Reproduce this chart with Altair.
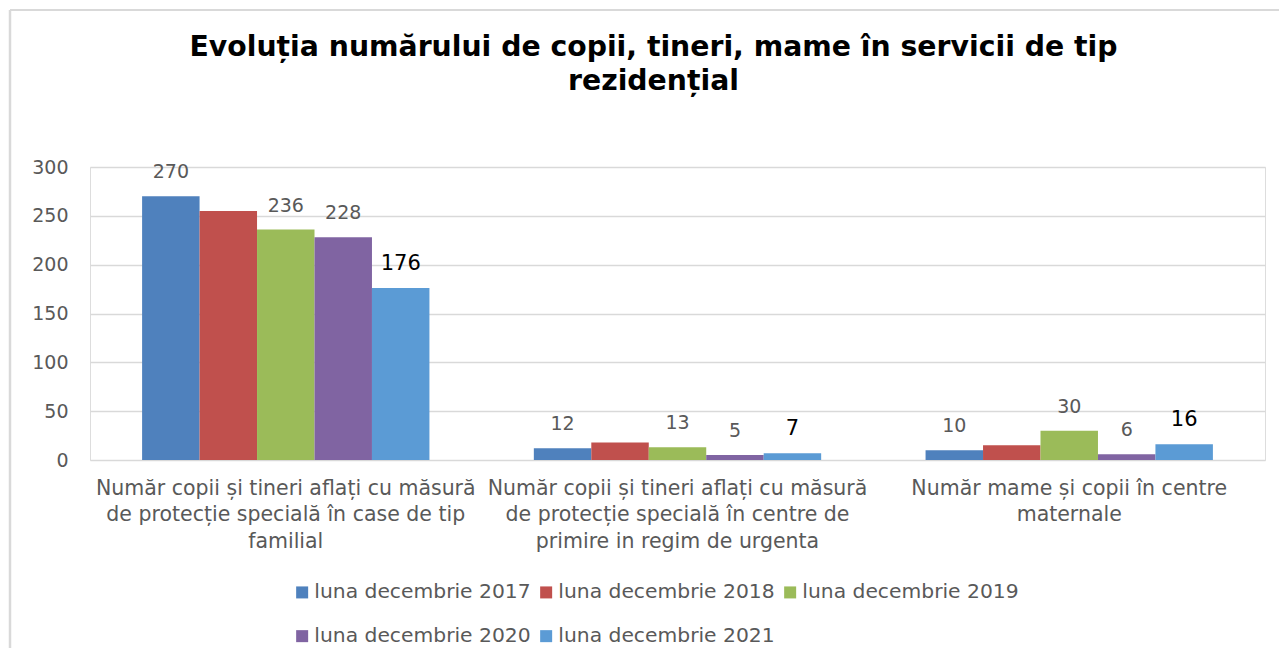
import altair as alt
import pandas as pd

categories = [
    "Număr copii și tineri aflați cu măsură\nde protecție specială în case de tip\nfamilial",
    "Număr copii și tineri aflați cu măsură\nde protecție specială în centre de\nprimire in regim de urgenta",
    "Număr mame și copii în centre\nmaternale",
]
series = [
    "luna decembrie 2017",
    "luna decembrie 2018",
    "luna decembrie 2019",
    "luna decembrie 2020",
    "luna decembrie 2021",
]
values_2017 = [270, 12, 10]
values_2018 = [255, 18, 15]
values_2019 = [236, 13, 30]
values_2020 = [228, 5, 6]
values_2021 = [176, 7, 16]
all_values = [values_2017, values_2018, values_2019, values_2020, values_2021]
labelled_series = ["luna decembrie 2017", "luna decembrie 2019", "luna decembrie 2020", "luna decembrie 2021"]
colors = ["#4F81BD", "#C0504D", "#9BBB59", "#8064A2", "#5B9BD5"]
y_ticks = [0, 50, 100, 150, 200, 250, 300]
title_lines = ["Evoluția numărului de copii, tineri, mame în servicii de tip", "rezidențial"]

rows = []
for s, vals in zip(series, all_values):
    for c, v in zip(categories, vals):
        rows.append({"category": c, "series": s, "value": v})
df = pd.DataFrame(rows)

FONT = "DejaVu Sans"

x_enc = alt.X(
    "category:N",
    sort=categories,
    scale=alt.Scale(paddingInner=0.2665, paddingOuter=0.133),
    axis=alt.Axis(
        title=None, labelAngle=0, domain=False, ticks=False,
        labelExpr="split(datum.label, '\\n')",
        labelFont=FONT, labelFontSize=20.5, labelColor="#595959",
        labelLineHeight=26.5, labelPadding=18, labelLimit=500,
        labelBaseline="top",
    ),
)
y_enc = alt.Y(
    "value:Q",
    scale=alt.Scale(domain=[0, 300], nice=False),
    axis=alt.Axis(
        title=None, values=y_ticks, domain=False, ticks=False,
        gridColor="#D9D9D9", gridWidth=1.5,
        labelFont=FONT, labelFontSize=19, labelColor="#595959", labelPadding=22,
    ),
)
xoff = alt.XOffset("series:N", sort=series, scale=alt.Scale(paddingInner=0, paddingOuter=0))

base = alt.Chart(df)

bars = base.mark_bar().encode(
    x=x_enc,
    y=y_enc,
    xOffset=xoff,
    color=alt.Color(
        "series:N",
        sort=series,
        scale=alt.Scale(domain=series, range=colors),
        legend=alt.Legend(
            title=None, orient="none", legendX=202, legendY=415, columns=3,
            direction="horizontal", symbolType="square", symbolSize=144,
            symbolStrokeWidth=0, labelFont=FONT, labelFontSize=20.3,
            labelColor="#595959", labelOffset=2, columnPadding=5,
            rowPadding=23, labelLimit=400,
        ),
    ),
)

labels = base.transform_filter(
    alt.FieldOneOfPredicate(field="series", oneOf=labelled_series)
).mark_text(baseline="middle", align="center", dy=-24, font=FONT).encode(
    x=alt.X("category:N", sort=categories),
    y="value:Q",
    xOffset=alt.XOffset("series:N", sort=series),
    text="value:Q",
    color=alt.condition(alt.datum.series == "luna decembrie 2021", alt.value("#000000"), alt.value("#595959")),
    size=alt.condition(alt.datum.series == "luna decembrie 2021", alt.value(21), alt.value(19)),
)

frame_df = pd.DataFrame({"k": [0]})
frame_left = alt.Chart(frame_df).mark_rule(color="#D9D9D9", strokeWidth=2.5).encode(
    x=alt.value(-80), y=alt.value(-157), y2=alt.value(600)
)
frame_top = alt.Chart(frame_df).mark_rule(color="#D9D9D9", strokeWidth=2).encode(
    x=alt.value(-80), x2=alt.value(1300), y=alt.value(-157)
)

chart = alt.layer(frame_left, frame_top, bars, labels).properties(
    width=1175,
    height=293,
    padding={"left": 82, "top": 159, "right": 14, "bottom": 188},
    autosize=alt.AutoSizeParams(type="none"),
    title=alt.TitleParams(
        text=title_lines, font=FONT, fontSize=28.3, fontWeight="bold",
        color="#000000", anchor="middle", dx=-24, dy=88, lineHeight=34, offset=0,
    ),
).configure_view(stroke=None).configure(background="white")

chart.save("out.html", embed_options={"renderer": "svg", "actions": False})
